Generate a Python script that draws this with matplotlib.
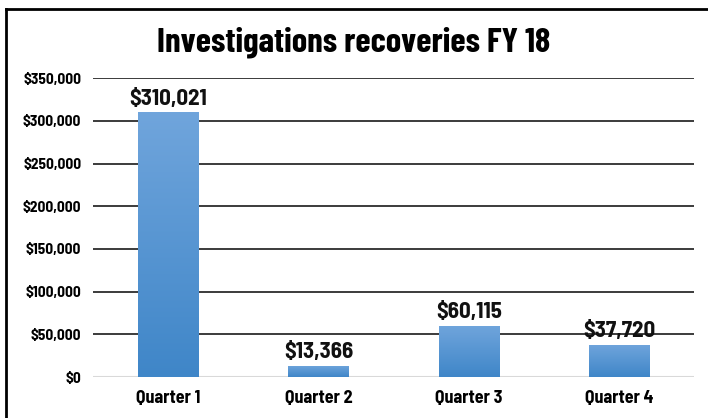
import numpy as np
import matplotlib.pyplot as plt
from matplotlib.ticker import FuncFormatter

quarters = ['Quarter 1', 'Quarter 2', 'Quarter 3', 'Quarter 4']
recoveries = [310021, 13366, 60115, 37720]
yticks = [0, 50000, 100000, 150000, 200000, 250000, 300000, 350000]

plt.rcParams['font.family'] = ['Barlow Condensed', 'DejaVu Sans']
semi = ['Barlow Semi Condensed', 'DejaVu Sans']

fig = plt.figure(figsize=(7.08, 4.18), dpi=100)
ax = fig.add_axes([0.1314, 0.098, 0.849, 0.715])

x = np.arange(len(quarters))
bars = ax.bar(x, recoveries, width=0.4, color='#5596d6', zorder=3)

# vertical gradient on each bar, light at the top
grad = np.linspace(0, 1, 256).reshape(-1, 1)
cmap = plt.matplotlib.colors.LinearSegmentedColormap.from_list('b', ['#3f86c8', '#70a5dc'])
for b in bars:
    x0, w, h = b.get_x(), b.get_width(), b.get_height()
    im = ax.imshow(grad, extent=[x0, x0 + w, 0, h], origin='lower', cmap=cmap,
                   aspect='auto', zorder=4)
    im.set_clip_path(b)

for xi, v in zip(x, recoveries):
    ax.text(xi, v + 4000, '${:,}'.format(v), ha='center', va='bottom',
            fontsize=16.5, fontweight='bold', family=semi, color='#111111', zorder=5)

ax.set_xlim(-0.5, 3.5)
ax.set_ylim(0, 350000)
ax.set_yticks(yticks)
ax.yaxis.set_major_formatter(FuncFormatter(lambda v, p: '${:,.0f}'.format(v)))
ax.set_xticks(x)
ax.set_xticklabels(quarters)
for lab in ax.get_yticklabels():
    lab.set_fontsize(11)
    lab.set_fontweight('bold')
    lab.set_family(semi)
for lab in ax.get_xticklabels():
    lab.set_fontsize(13)
    lab.set_fontweight('bold')
    lab.set_family(semi)
ax.tick_params(length=0)
ax.tick_params(axis='y', pad=8.5)
ax.tick_params(axis='x', pad=9)

for t in yticks[1:]:
    ax.axhline(t, color='#1a1a1a', lw=1.2, zorder=1)
ax.axhline(0, color='#d9d9d9', lw=1.5, zorder=2)
for s in ax.spines.values():
    s.set_visible(False)

fig.text(0.5, 0.9, 'Investigations recoveries FY 18', ha='center', va='center',
         fontsize=25, fontweight='bold')

# chart frame (left and top edges visible)
fig.add_artist(plt.Line2D([0.0085, 0.0085], [0, 0.978], color='black', lw=2,
                          transform=fig.transFigure))
fig.add_artist(plt.Line2D([0.0085, 1.0], [0.978, 0.978], color='black', lw=2,
                          transform=fig.transFigure))

fig.savefig('out.png', dpi=100)
